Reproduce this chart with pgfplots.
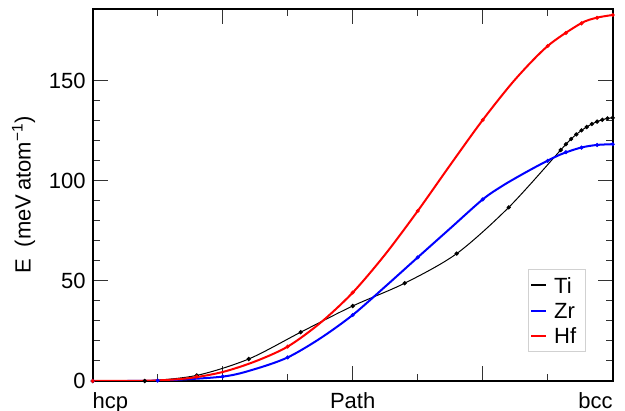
\documentclass[border=0pt]{standalone}
\usepackage{fontspec}
\setmainfont{Liberation Sans}
\usepackage{pgfplots}
\pgfplotsset{compat=1.18}
\begin{document}
\begin{tikzpicture}
\begin{axis}[name=ax, scale only axis, width=260pt, height=186pt,
  xmin=0, xmax=1, ymin=0, ymax=186,
  xtick={0,0.25,0.5,0.75,1},
  xticklabels={\rlap{hcp},,Path,,\llap{bcc}},
  minor x tick num=1,
  ytick={0,50,100,150}, minor y tick num=4,
  major tick length=7.5pt, minor tick length=3.5pt,
  tick style={line width=0.5pt, black!80},
  axis line style={line width=0.9pt},
  /pgf/number format/assume math mode=true,
  tick label style={font=\fontsize{11}{13}\selectfont},
  xticklabel shift=2pt,
  ylabel={E\ \ (meV\,atom\textsuperscript{−1})},
  label style={font=\fontsize{11}{13}\selectfont},
  legend style={at={(0.948,0.078)}, anchor=south east, draw=black!18, line width=0.5pt,
    font=\fontsize{11}{13}\selectfont, inner xsep=1pt, inner ysep=1.5pt, row sep=0pt,
    nodes={inner xsep=3.5pt, inner ysep=2.3pt, text height=8pt, text depth=0pt}},
  legend cell align=left,
  legend image code/.code={\draw[#1, line width=1pt] (0pt,0pt) -- (7.5pt,0pt);},
]
\addplot[black, line width=0.5pt, smooth, mark=*, mark size=0.8pt] coordinates {
(0,0) (0.1,0) (0.2,2.8) (0.3,11) (0.4,24.4) (0.5,37.5) (0.6,48.9) (0.7,63.7) (0.8,86.8) (0.9,115.5)
(0.91,118.4) (0.92,121.0) (0.93,123.3) (0.94,125.3) (0.95,127.0) (0.96,128.5) (0.97,129.7) (0.98,130.6) (0.99,131.3) (1.0,131.6)};
\addlegendentry{Ti}
\addplot[blue, line width=1pt, smooth] coordinates {
(0,0) (0.125,0.2) (0.25,2.2) (0.3125,6.0) (0.375,11.8) (0.4375,21.3) (0.5,33) (0.5625,47.2) (0.625,61.8)
(0.6875,76.3) (0.75,90.8) (0.7875,97.5) (0.825,103.2) (0.8625,108.5) (0.9,113.3) (0.9375,116.6) (0.96875,118) (1,118.4)};
\addlegendentry{Zr}
\addplot[red, line width=1pt, smooth] coordinates {
(0,0) (0.0625,0.05) (0.125,0.3) (0.1875,1.5) (0.25,4.5) (0.3125,9.8) (0.375,17.2) (0.4375,29) (0.5,44.2)
(0.5625,63.3) (0.625,85) (0.6875,108) (0.75,130.5) (0.8125,150.8) (0.875,167.5) (0.9375,178.6) (0.96875,181.6) (1,183)};
\addlegendentry{Hf}
\addplot[blue, only marks, mark=*, mark size=0.8pt, forget plot] coordinates {
(0,0) (0.125,0.2) (0.25,2.2) (0.375,11.8) (0.5,33) (0.625,61.8) (0.75,90.8) (0.875,110.1) (0.91,114.4) (0.94,116.7) (0.97,118) (1,118.4)};
\addplot[red, only marks, mark=*, mark size=0.8pt, forget plot] coordinates {
(0,0) (0.2,2.2) (0.375,17.2) (0.5,44.2) (0.625,85) (0.75,130.5) (0.875,167.5) (0.91,174) (0.94,178.8) (0.97,181.6) (1,183)};
\end{axis}
\pgfresetboundingbox
\path ([xshift=-46.35pt,yshift=-15pt]ax.south west) rectangle ([xshift=6.15pt,yshift=4.5pt]ax.north east);
\end{tikzpicture}
\end{document}
